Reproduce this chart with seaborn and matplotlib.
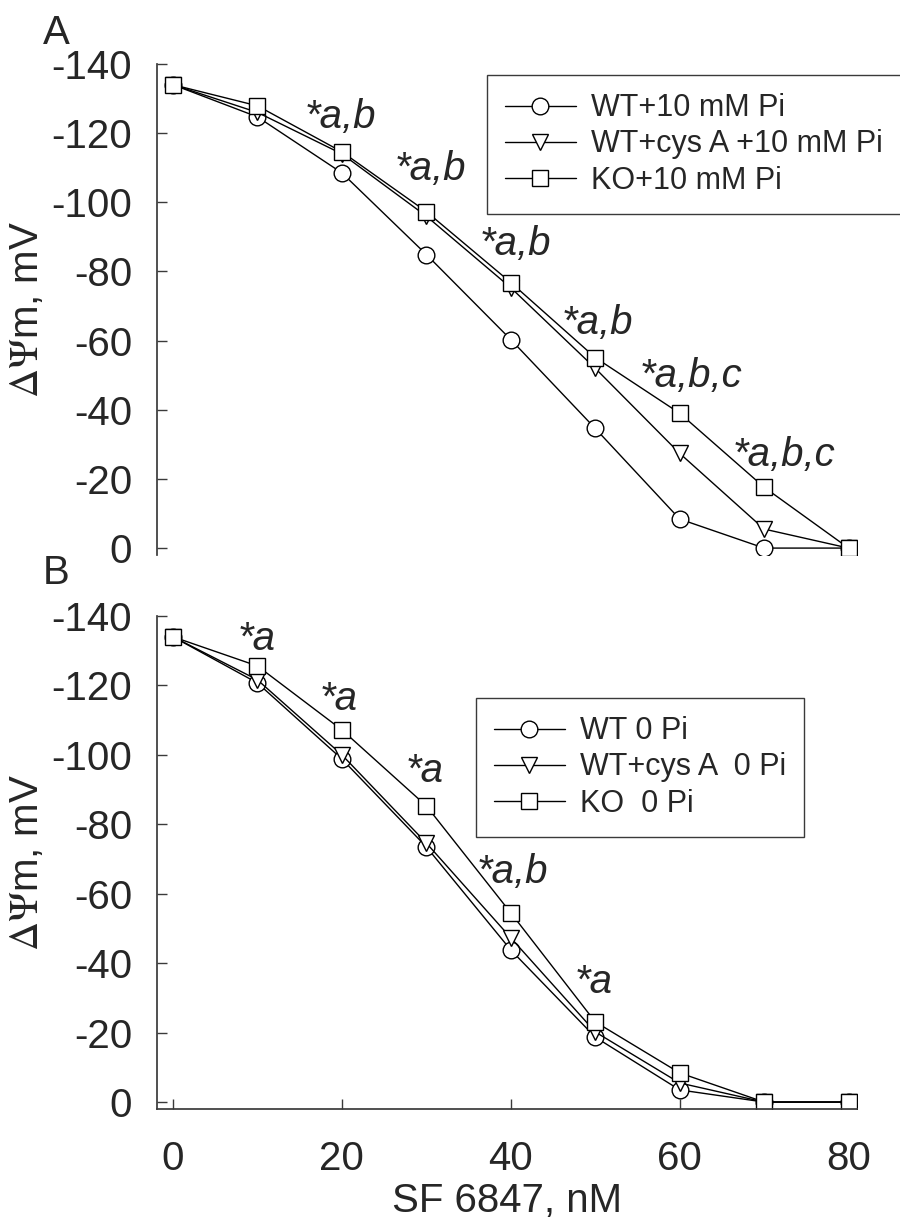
import numpy as np
import pandas as pd
import matplotlib
matplotlib.use("Agg")
import matplotlib.pyplot as plt
import seaborn as sns

# ---------------- data ----------------
sf = [0, 10, 20, 30, 40, 50, 60, 70, 80]

labels_A = ["WT+10 mM Pi", "WT+cys A +10 mM Pi", "KO+10 mM Pi"]
wt_10pi = [-134, -124.7, -108.5, -84.9, -60.3, -34.6, -8.4, 0, 0]
wtcys_10pi = [-134, -126.0, -114.0, -96.0, -75.3, -52.0, -27.4, -5.5, 0]
ko_10pi = [-134, -127.9, -114.6, -97.3, -76.8, -55.1, -39.0, -17.6, 0]

labels_B = ["WT 0 Pi", "WT+cys A  0 Pi", "KO  0 Pi"]
wt_0pi = [-134, -120.7, -98.8, -73.5, -43.8, -18.7, -3.5, 0, 0]
wtcys_0pi = [-134, -121.6, -100.0, -74.6, -47.3, -20.2, -5.5, 0, 0]
ko_0pi = [-134, -125.6, -107.2, -85.3, -54.5, -23.1, -8.4, 0, 0]

# significance annotations: (text, x, y)
ann_A_text = ["*a,b", "*a,b", "*a,b", "*a,b", "*a,b,c", "*a,b,c"]
ann_A_x = [15.6, 26.3, 36.3, 46.0, 55.3, 66.3]
ann_A_y = [-121.5, -106.5, -84.9, -61.8, -46.5, -23.7]

ann_B_text = ["*a", "*a", "*a", "*a,b", "*a"]
ann_B_x = [7.6, 17.4, 27.5, 36.0, 47.6]
ann_B_y = [-130.3, -113.0, -92.2, -63.0, -31.4]

yticks = [0, -20, -40, -60, -80, -100, -120, -140]
xticks = [0, 20, 40, 60, 80]
markers = ["o", "v", "s"]

# ---------------- style ----------------
sns.set_theme(style="ticks")
plt.rcParams["font.family"] = ["Liberation Sans", "DejaVu Sans"]
plt.rcParams["mathtext.fontset"] = "stix"

W, H = 900, 1219
fig = plt.figure(figsize=(W / 100, H / 100), dpi=100)
fig.patch.set_facecolor("white")

left = 157 / W
width = 700 / W
axA = fig.add_axes([left, 1 - 555 / H, width, (555 - 64) / H])
axB = fig.add_axes([left, 1 - 1109 / H, width, (1109 - 616) / H])

spine_col = "#3a3a3a"


def draw(ax, series, labels):
    for vals, lab, mk in zip(series, labels, markers):
        df = pd.DataFrame({"x": sf, "y": vals})
        sns.lineplot(data=df, x="x", y="y", ax=ax, color="black", lw=1.0,
                     marker=mk, markersize=12,
                     markerfacecolor="white", markeredgecolor="black",
                     markeredgewidth=1.0, label=lab, legend=False)
    ax.set_xlim(-1.9, 81)
    ax.set_ylim(2, -140)
    ax.set_yticks(yticks)
    ax.set_yticklabels([str(t) for t in yticks])
    ax.tick_params(axis="both", direction="in", length=7, width=1.0,
                   color=spine_col, labelsize=29, pad=18)
    ax.set_ylabel(r"$\Delta\Psi$m, mV", fontsize=29, labelpad=4)
    for s in ["top", "right"]:
        ax.spines[s].set_visible(False)
    ax.spines["left"].set_color(spine_col)
    ax.spines["bottom"].set_color(spine_col)
    ax.set_facecolor("white")


draw(axA, [wt_10pi, wtcys_10pi, ko_10pi], labels_A)
draw(axB, [wt_0pi, wtcys_0pi, ko_0pi], labels_B)

# top panel: no x axis
axA.spines["bottom"].set_visible(False)
axA.tick_params(axis="x", bottom=False, labelbottom=False)
axA.set_xlabel("")

axB.set_xticks(xticks)
axB.tick_params(axis="x", pad=22)
axB.set_xlabel("SF 6847, nM", fontsize=29, va="baseline")
axB.xaxis.set_label_coords(0.5, -(1212 - 1109) / (1109 - 616))

for t, x, y in zip(ann_A_text, ann_A_x, ann_A_y):
    axA.text(x, y, t, fontsize=29, style="italic", ha="left", va="baseline")
for t, x, y in zip(ann_B_text, ann_B_x, ann_B_y):
    axB.text(x, y, t, fontsize=29, style="italic", ha="left", va="baseline")

leg_kw = dict(fontsize=22, frameon=True, fancybox=False, shadow=False,
              handlelength=2.3, handletextpad=0.5, labelspacing=0.2,
              borderpad=0.6, borderaxespad=0, loc="upper left")
legA = axA.legend(handles=axA.lines[:3], labels=labels_A,
                  bbox_to_anchor=(487 / W, 1 - 75 / H),
                  bbox_transform=fig.transFigure, **leg_kw)
legB = axB.legend(handles=axB.lines[:3], labels=labels_B,
                  bbox_to_anchor=(476 / W, 1 - 698 / H),
                  bbox_transform=fig.transFigure, **leg_kw)
for leg in (legA, legB):
    fr = leg.get_frame()
    fr.set_edgecolor(spine_col)
    fr.set_linewidth(1.0)
    fr.set_alpha(1)

fig.text(43 / W, 1 - 44 / H, "A", fontsize=29, ha="left", va="baseline")
fig.text(43 / W, 1 - 584 / H, "B", fontsize=29, ha="left", va="baseline")

fig.savefig("out.png", dpi=100, facecolor="white")
